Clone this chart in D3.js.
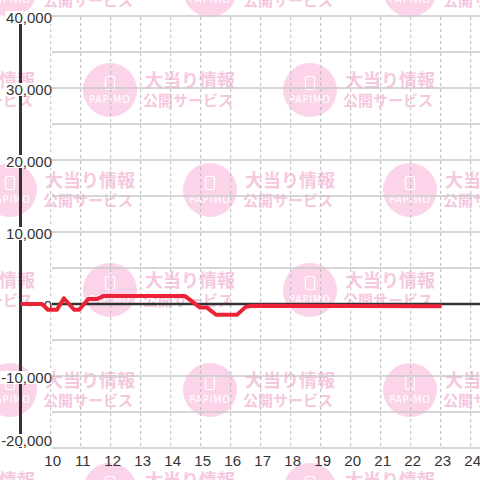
<!DOCTYPE html>
<html><head><meta charset="utf-8">
<script src="https://cdn.jsdelivr.net/npm/d3@7"></script>
<style>html,body{margin:0;padding:0;background:#fff;} svg{display:block}</style>
</head><body>
<svg id="c" width="480" height="480"></svg>
<script>
// ---- data ----
const hourTicks = [10,11,12,13,14,15,16,17,18,19,20,21,22,23,24];
const yTicks = [-20000,-10000,0,10000,20000,30000,40000];
const yGrid = [-20000,-15000,-10000,-5000,0,5000,10000,15000,20000,25000,30000,35000,40000];
const times  = [9.0, 9.71, 9.91, 10.21, 10.44, 10.78, 10.95, 11.25, 11.55, 11.75, 14.48, 14.98, 15.21, 15.51, 16.21, 16.5, 16.75, 23.03];
const values = [0,   0,   -800, -800,   800,  -800,  -800,   700,   700,   1100,  1100,  -500,  -500, -1500, -1500, -400, -250, -300];
const watermarkTitle = "大当り情報";
const watermarkSub = "公開サービス";
const watermarkLogo = "PAPIMO";

const svg = d3.select("#c");
const x = d3.scaleLinear().domain([9, 24]).range([20.7, 470.7]);
const y = d3.scaleLinear().domain([-20000, 40000]).range([448, 16]);
const FONT = "'Liberation Sans', Arial, sans-serif";

// ---- watermark ----
const wm = svg.append("g");
const spots = [];
for (let r = 0; r < 6; r++) {
  const cy = -10 + 100 * r;
  const xs = r % 2 === 0 ? [10, 210, 410] : [-90, 110, 310, 510];
  xs.forEach(cx => spots.push([cx, cy]));
}
spots.forEach(([cx, cy]) => {
  const g = wm.append("g").attr("transform", `translate(${cx},${cy})`);
  g.append("circle").attr("r", 27).attr("fill", "#fbd4ea");
  g.append("rect").attr("x", -4.5).attr("y", -13.5).attr("width", 9).attr("height", 13)
    .attr("rx", 1.5).attr("fill", "none").attr("stroke", "#fff").attr("stroke-width", 1.2);
  g.append("text").attr("x", 0).attr("y", 13).attr("text-anchor", "middle")
    .attr("font-family", "'DejaVu Sans Condensed', 'Liberation Sans Narrow', sans-serif")
    .attr("font-size", 10.5).attr("letter-spacing", 1).attr("fill", "#fff").text(watermarkLogo);
  g.append("text").attr("x", 35).attr("y", -3)
    .attr("font-family", "'Noto Sans CJK JP', sans-serif").attr("font-weight", "bold")
    .attr("font-size", 18).attr("fill", "#f6c8e0").text(watermarkTitle);
  g.append("text").attr("x", 33).attr("y", 16)
    .attr("font-family", "'Noto Sans CJK JP', sans-serif").attr("font-weight", "bold")
    .attr("font-size", 15).attr("fill", "#f6c8e0").text(watermarkSub);
});

// ---- grid ----
svg.append("g").selectAll("line").data(yGrid).join("line")
  .attr("x1", 52).attr("x2", 480)
  .attr("y1", d => y(d)).attr("y2", d => y(d))
  .attr("stroke", "#c8c8c8").attr("stroke-width", 1.5);
svg.append("g").selectAll("line").data(hourTicks).join("line")
  .attr("x1", d => x(d)).attr("x2", d => x(d))
  .attr("y1", y(40000) + 1).attr("y2", y(-20000))
  .attr("stroke", "#bbb").attr("stroke-width", 1).attr("stroke-dasharray", "3,3");

// ---- zero line & y axis line ----
svg.append("line").attr("x1", 20).attr("x2", 480).attr("y1", y(0)).attr("y2", y(0))
  .attr("stroke", "#333").attr("stroke-width", 2.5);
svg.append("line").attr("x1", x(9) - 0.2).attr("x2", x(9) - 0.2).attr("y1", y(40000)).attr("y2", y(-20000))
  .attr("stroke", "#333").attr("stroke-width", 3);

// ---- y axis labels ----
const fmt = d => d3.format(",")(d).replace("\u2212", "-");
const baseY = d => d === -20000 ? 446 : y(d) + 7;
const ya = svg.append("g").attr("transform", "translate(52,0)")
  .call(d3.axisLeft(y).tickValues(yTicks).tickSize(0).tickPadding(0).tickFormat(fmt));
ya.select(".domain").remove();
ya.selectAll(".tick").attr("transform", null);
ya.selectAll(".tick text")
  .attr("x", 0).attr("y", d => baseY(d)).attr("dy", null)
  .attr("text-anchor", "end")
  .attr("font-family", FONT).attr("font-size", 15).attr("fill", "#333");
ya.selectAll(".tick").each(function(d) {
  const t = d3.select(this).select("text");
  const w = t.node().getComputedTextLength();
  d3.select(this).insert("rect", "text")
    .attr("x", -w - 1).attr("width", w + 1)
    .attr("y", baseY(d) - 12).attr("height", 13)
    .attr("fill", "#fff");
});

// ---- data line ----
const pts = times.map((t, i) => [t, values[i]]);
svg.append("path").datum(pts)
  .attr("d", d3.line().x(d => x(d[0])).y(d => y(d[1])))
  .attr("fill", "none").attr("stroke", "#ec2336").attr("stroke-width", 4)
  .attr("stroke-linejoin", "round");

// ---- x axis labels ----
const xa = svg.append("g").attr("transform", "translate(1.5,448)")
  .call(d3.axisBottom(x).tickValues(hourTicks).tickSize(0).tickFormat(d3.format("d")));
xa.select(".domain").remove();
xa.selectAll(".tick text").attr("y", 18).attr("dy", null)
  .attr("font-family", FONT).attr("font-size", 15).attr("fill", "#333");
</script>
</body></html>
